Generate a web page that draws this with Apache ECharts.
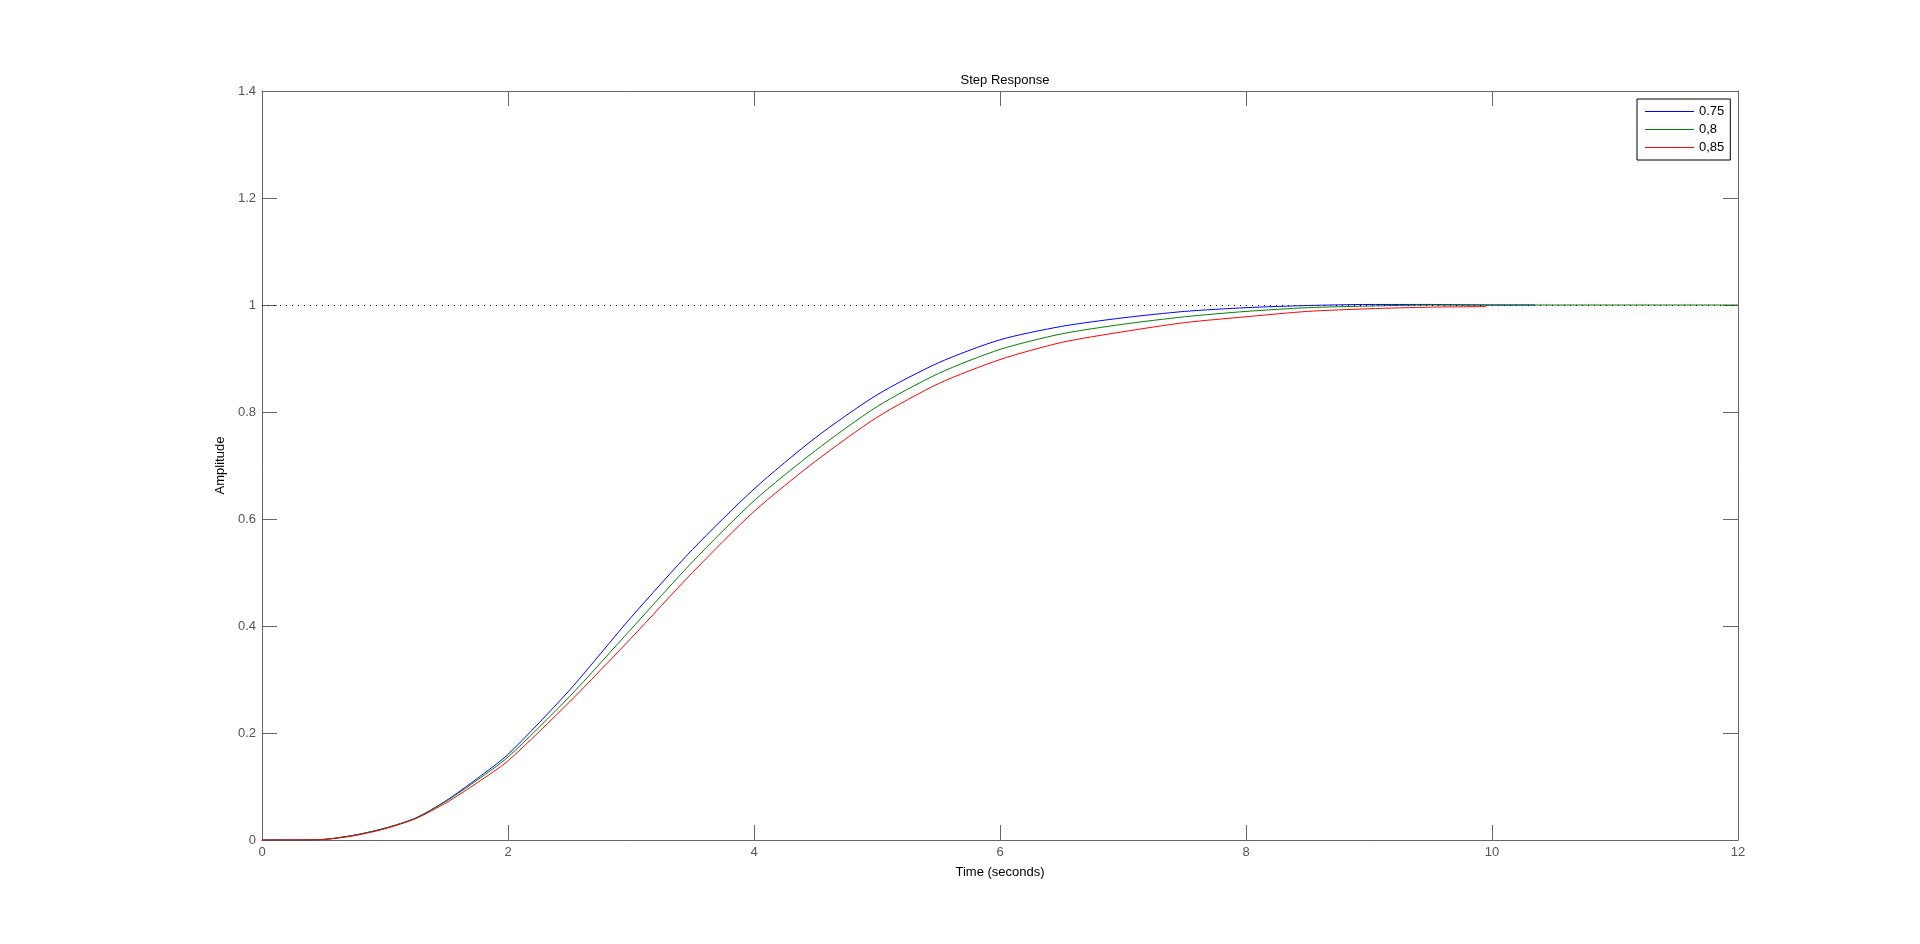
<!DOCTYPE html>
<html>
<head>
<meta charset="utf-8">
<script src="https://cdn.jsdelivr.net/npm/echarts@6/dist/echarts.min.js"></script>
<style>
html,body{margin:0;padding:0;background:#fff;}
#chart{width:1920px;height:944px;}
</style>
</head>
<body>
<div id="chart"></div>
<script>
const seriesNames = ['0.75', '0,8', '0,85'];
const timeBlue  = [0,0.25,0.5,0.75,1,1.25,1.5,1.75,2,2.5,3,3.5,4,4.5,5,5.5,6,6.5,7,7.5,8,8.5,9,9.5,10,10.35];
const valBlue   = [0,0,0.001,0.009,0.022,0.041,0.074,0.115,0.160,0.280,0.416,0.543,0.656,0.752,0.832,0.892,0.935,0.960,0.976,0.988,0.995,0.999,1.001,1.001,1.000,1.000];
const timeGreen = [0,0.25,0.5,0.75,1,1.25,1.5,1.75,2,2.5,3,3.5,4,4.5,5,5.5,6,6.5,7,7.5,8,8.5,9,9.5,10,11,12];
const valGreen  = [0,0,0.001,0.009,0.022,0.041,0.073,0.112,0.155,0.268,0.394,0.520,0.634,0.728,0.810,0.872,0.917,0.946,0.964,0.978,0.988,0.995,0.998,1.000,1.000,1.000,1.000];
const timeRed   = [0,0.25,0.5,0.75,1,1.25,1.5,1.75,2,2.5,3,3.5,4,4.5,5,5.5,6,6.5,7,7.5,8,8.5,9,9.5,9.95];
const valRed    = [0,0,0.001,0.008,0.021,0.040,0.070,0.107,0.148,0.258,0.377,0.500,0.614,0.708,0.790,0.853,0.898,0.930,0.950,0.967,0.978,0.988,0.993,0.996,0.997];
const finalValue = 1;
const colors = ['#0000ff', '#008000', '#ff0000'];

function pairs(t, v) { return t.map((x, i) => [x, v[i]]); }

const axisGray = '#666666';
const font = 'Liberation Sans, Arial, sans-serif';

const chart = echarts.init(document.getElementById('chart'));
const xCommon = {
  type: 'value', min: 0, max: 12, interval: 2,
  axisLine: {show: true, onZero: false, lineStyle: {color: axisGray, width: 1}},
  axisTick: {show: true, inside: true, length: 15, lineStyle: {color: axisGray}},
  splitLine: {show: false}
};
const yCommon = {
  type: 'value', min: 0, max: 1.4, interval: 0.2,
  axisLine: {show: true, onZero: false, lineStyle: {color: axisGray, width: 1}},
  axisTick: {show: true, inside: true, length: 15, lineStyle: {color: axisGray}},
  splitLine: {show: false}
};
const lineCommon = {type: 'line', showSymbol: false, smooth: 0.25};
const option = {
  animation: false,
  backgroundColor: '#ffffff',
  title: {
    text: 'Step Response', left: 1000, top: 69, textAlign: 'center',
    textStyle: {fontFamily: font, fontSize: 13, fontWeight: 'normal', color: '#000'}
  },
  legend: {
    orient: 'vertical', left: 1637, top: 99,
    padding: [6, 6, 6, 8], itemGap: 5, itemWidth: 49, itemHeight: 14,
    backgroundColor: '#fff', borderColor: '#000', borderWidth: 1, borderRadius: 0,
    textStyle: {fontFamily: font, fontSize: 13, color: '#000', padding: [0, 0, 0, 0]},
    data: seriesNames.map(n => ({name: n, icon: 'path://M0,0H49V1H0Z'}))
  },
  grid: {left: 262, right: 182, top: 91, bottom: 104},
  xAxis: [
    Object.assign({}, xCommon, {
      position: 'bottom', name: 'Time (seconds)', nameLocation: 'middle', nameGap: 26,
      nameTextStyle: {fontFamily: font, fontSize: 13, color: '#000'},
      axisLabel: {fontFamily: font, fontSize: 13, color: '#555', margin: 6}
    }),
    Object.assign({}, xCommon, {position: 'top', axisLabel: {show: false}})
  ],
  yAxis: [
    Object.assign({}, yCommon, {
      position: 'left', name: 'Amplitude', nameLocation: 'middle', nameGap: 32,
      nameTextStyle: {fontFamily: font, fontSize: 13, color: '#000'},
      axisLabel: {fontFamily: font, fontSize: 13, color: '#555', margin: 6,
        formatter: v => (Math.round(v * 10) / 10).toString()}
    }),
    Object.assign({}, yCommon, {position: 'right', axisLabel: {show: false}})
  ],
  series: [
    Object.assign({}, lineCommon, {
      name: seriesNames[0], data: pairs(timeBlue, valBlue),
      lineStyle: {color: colors[0], width: 1}, itemStyle: {color: colors[0]},
      markLine: {
        silent: true, symbol: 'none', label: {show: false},
        lineStyle: {color: '#000', width: 1, type: [1, 5]},
        data: [{yAxis: finalValue}]
      }
    }),
    Object.assign({}, lineCommon, {
      name: seriesNames[1], data: pairs(timeGreen, valGreen),
      lineStyle: {color: colors[1], width: 1}, itemStyle: {color: colors[1]}
    }),
    Object.assign({}, lineCommon, {
      name: seriesNames[2], data: pairs(timeRed, valRed),
      lineStyle: {color: colors[2], width: 1}, itemStyle: {color: colors[2]}
    })
  ]
};
chart.setOption(option);
</script>
</body>
</html>
